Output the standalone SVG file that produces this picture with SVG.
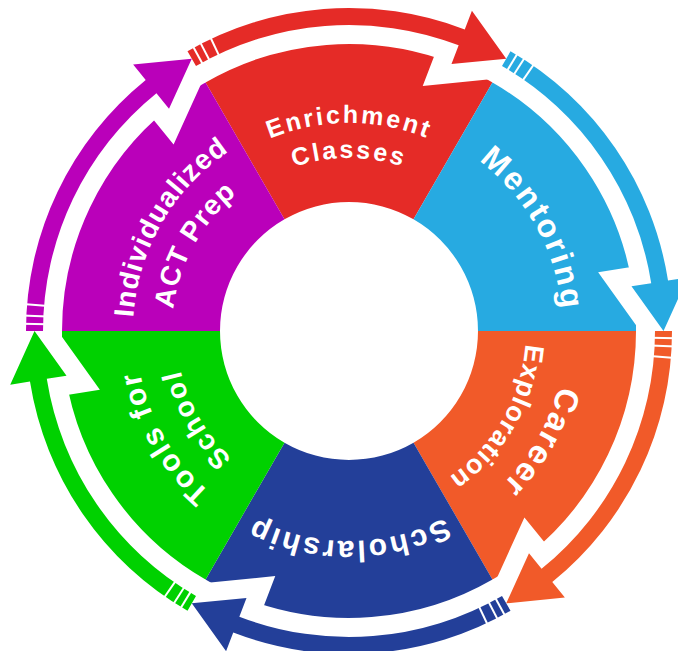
<svg xmlns="http://www.w3.org/2000/svg" xmlns:xlink="http://www.w3.org/1999/xlink" width="678" height="651" viewBox="0 0 678 651">
<style>
.txt{font-family:"Liberation Sans",Arial,sans-serif;font-weight:bold;fill:#fff;}
.halo{fill:#fff;stroke:#fff;stroke-width:38;stroke-linejoin:miter;stroke-miterlimit:2.3;}
.stripe{stroke:#fff;stroke-width:2;fill:none;}
</style>
<defs>
<path id="a173" d="M176.66,315.92 A173,173 0 0 1 521.34,315.92"/>
<path id="a177" d="M172.67,315.57 A177,177 0 0 1 525.33,315.57"/>
<path id="a208" d="M141.79,312.87 A208,208 0 0 1 556.21,312.87"/>
<path id="a210" d="M139.8,312.7 A210,210 0 0 1 558.2,312.7"/>
<path id="a213" d="M136.81,312.43 A213,213 0 0 1 561.19,312.43"/>
<path id="a214" d="M135.81,312.35 A214,214 0 0 1 562.19,312.35"/>
<path id="a216" d="M133.82,312.17 A216,216 0 0 1 564.18,312.17"/>
<path id="a217" d="M132.83,312.09 A217,217 0 0 1 565.17,312.09"/>
<g id="stripes" class="stripe">
<line x1="650.93" y1="337.72" x2="675.92" y2="338.28"/>
<line x1="650.66" y1="345.40" x2="675.63" y2="346.59"/>
<line x1="649.97" y1="355.94" x2="674.88" y2="358.0"/>
</g>
</defs>
<rect width="678" height="651" fill="#fff"/>

<g id="node-enrichment">
<path fill="#E52B27" d="M205,81.6 A288,288 0 0 1 493,81.6 L413.5,219.3 A129,129 0 0 0 284.5,219.3 Z"/>
<text class="txt" font-size="25" letter-spacing="2.5"><textPath href="#a208" xlink:href="#a208" startOffset="50%" text-anchor="middle">Enrichment</textPath></text>
<text class="txt" font-size="25" letter-spacing="2.5"><textPath href="#a173" xlink:href="#a173" startOffset="50%" text-anchor="middle">Classes</textPath></text>
</g>
<g id="node-mentoring">
<path fill="#27AAE1" d="M493,81.6 A288,288 0 0 1 637,331 L478,331 A129,129 0 0 0 413.5,219.3 Z"/>
<text class="txt" font-size="32" letter-spacing="2.5" transform="rotate(61 349 331)"><textPath href="#a214" xlink:href="#a214" startOffset="50%" text-anchor="middle">Mentoring</textPath></text>
</g>
<g id="node-career">
<path fill="#F15A29" d="M637,331 A288,288 0 0 1 493,580.4 L413.5,442.7 A129,129 0 0 0 478,331 Z"/>
<text class="txt" font-size="33" letter-spacing="2" transform="rotate(120 349 331)"><textPath href="#a217" xlink:href="#a217" startOffset="50%" text-anchor="middle">Career</textPath></text>
<text class="txt" font-size="27" letter-spacing="1" transform="rotate(120 349 331)"><textPath href="#a177" xlink:href="#a177" startOffset="50%" text-anchor="middle">Exploration</textPath></text>
</g>
<g id="node-scholarship">
<path fill="#233F99" d="M493,580.4 A288,288 0 0 1 205,580.4 L284.5,442.7 A129,129 0 0 0 413.5,442.7 Z"/>
<text class="txt" font-size="30" letter-spacing="2.5" transform="rotate(180 349 331)"><textPath href="#a210" xlink:href="#a210" startOffset="50%" text-anchor="middle">Scholarship</textPath></text>
</g>
<g id="node-tools">
<path fill="#00D100" d="M205,580.4 A288,288 0 0 1 61,331 L220,331 A129,129 0 0 0 284.5,442.7 Z"/>
<text class="txt" font-size="30" letter-spacing="2" transform="rotate(240 349 331)"><textPath href="#a213" xlink:href="#a213" startOffset="50%" text-anchor="middle">Tools for</textPath></text>
<text class="txt" font-size="28" letter-spacing="2" transform="rotate(240 349 331)"><textPath href="#a173" xlink:href="#a173" startOffset="50%" text-anchor="middle">School</textPath></text>
</g>
<g id="node-act">
<path fill="#BA00BA" d="M61,331 A288,288 0 0 1 205,81.6 L284.5,219.3 A129,129 0 0 0 220,331 Z"/>
<text class="txt" font-size="28" letter-spacing="1" transform="rotate(300 349 331)"><textPath href="#a216" xlink:href="#a216" startOffset="50%" text-anchor="middle">Individualized</textPath></text>
<text class="txt" font-size="28" letter-spacing="1" transform="rotate(299 349 331)"><textPath href="#a177" xlink:href="#a177" startOffset="50%" text-anchor="middle">ACT Prep</textPath></text>
</g>

<g id="connectors">
<g id="halos" class="halo">
<path d="M187.5,51.28 A323,323 0 0 1 464.75,29.45 L471.92,10.78 L506.25,58.64 L451.49,64 L458.66,45.32 A306,306 0 0 0 196,66 Z"/>
<path d="M510.5,51.27 A323,323 0 0 1 668.02,280.47 L687.78,277.34 L663.5,331 L631.48,286.26 L651.23,283.13 A306,306 0 0 0 502,66 Z"/>
<path d="M672,331 A323,323 0 0 1 552.27,582.02 L564.86,597.56 L506.25,603.36 L528.99,553.26 L541.57,568.81 A306,306 0 0 0 655,331 Z"/>
<path d="M510.5,610.73 A323,323 0 0 1 233.25,632.55 L226.08,651.22 L191.75,603.36 L246.51,598 L239.34,616.68 A306,306 0 0 0 502,596 Z"/>
<path d="M187.5,610.73 A323,323 0 0 1 29.98,381.53 L10.22,384.66 L34.5,331 L66.52,375.74 L46.77,378.87 A306,306 0 0 0 196,596 Z"/>
<path d="M26,331 A323,323 0 0 1 145.73,79.98 L133.14,64.44 L191.75,58.64 L169.01,108.74 L156.43,93.19 A306,306 0 0 0 43,331 Z"/>
</g>
<path id="arrow-enrichment-mentoring" fill="#E52B27" d="M187.5,51.28 A323,323 0 0 1 464.75,29.45 L471.92,10.78 L506.25,58.64 L451.49,64 L458.66,45.32 A306,306 0 0 0 196,66 Z"/>
<path id="arrow-mentoring-career" fill="#27AAE1" d="M510.5,51.27 A323,323 0 0 1 668.02,280.47 L687.78,277.34 L663.5,331 L631.48,286.26 L651.23,283.13 A306,306 0 0 0 502,66 Z"/>
<path id="arrow-career-scholarship" fill="#F15A29" d="M672,331 A323,323 0 0 1 552.27,582.02 L564.86,597.56 L506.25,603.36 L528.99,553.26 L541.57,568.81 A306,306 0 0 0 655,331 Z"/>
<path id="arrow-scholarship-tools" fill="#233F99" d="M510.5,610.73 A323,323 0 0 1 233.25,632.55 L226.08,651.22 L191.75,603.36 L246.51,598 L239.34,616.68 A306,306 0 0 0 502,596 Z"/>
<path id="arrow-tools-act" fill="#00D100" d="M187.5,610.73 A323,323 0 0 1 29.98,381.53 L10.22,384.66 L34.5,331 L66.52,375.74 L46.77,378.87 A306,306 0 0 0 196,596 Z"/>
<path id="arrow-act-enrichment" fill="#BA00BA" d="M26,331 A323,323 0 0 1 145.73,79.98 L133.14,64.44 L191.75,58.64 L169.01,108.74 L156.43,93.19 A306,306 0 0 0 43,331 Z"/>
<use href="#stripes" xlink:href="#stripes" transform="rotate(-120 349 331)"/>
<use href="#stripes" xlink:href="#stripes" transform="rotate(-60 349 331)"/>
<use href="#stripes" xlink:href="#stripes"/>
<use href="#stripes" xlink:href="#stripes" transform="rotate(60 349 331)"/>
<use href="#stripes" xlink:href="#stripes" transform="rotate(120 349 331)"/>
<use href="#stripes" xlink:href="#stripes" transform="rotate(180 349 331)"/>
</g>
</svg>
